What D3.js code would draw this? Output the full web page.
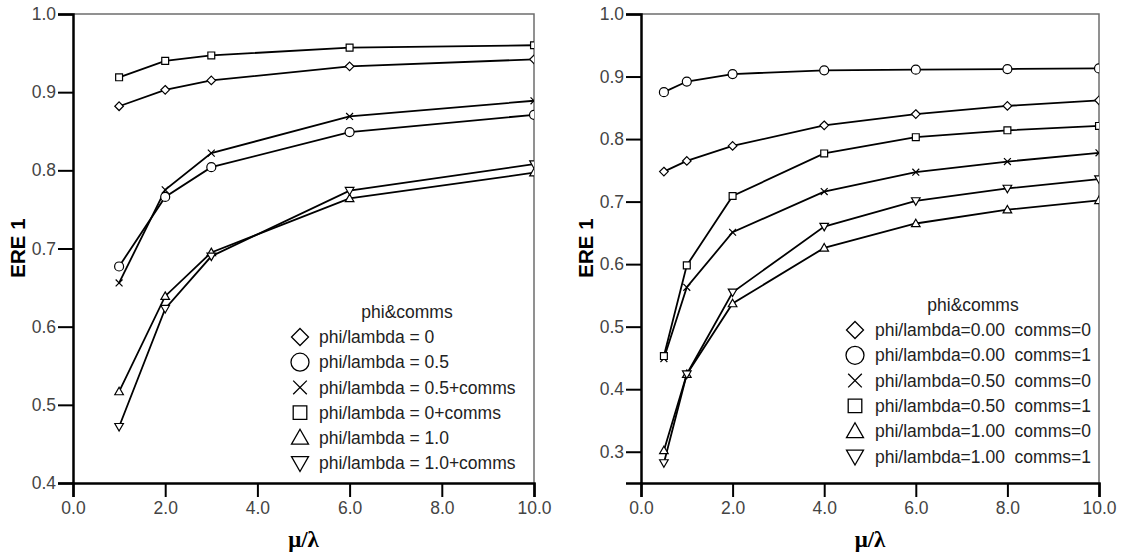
<!DOCTYPE html>
<html><head><meta charset="utf-8">
<script src="https://cdn.jsdelivr.net/npm/d3@7"></script>
<style>body{margin:0;background:#fff}svg{display:block}</style>
</head><body>
<svg id="c" width="1122" height="556"></svg>
<script>
// ---------- DATA ----------
const leftX = [1, 2, 3, 6, 10];
const leftNames = ["phi/lambda = 0", "phi/lambda = 0.5", "phi/lambda = 0.5+comms", "phi/lambda = 0+comms", "phi/lambda = 1.0", "phi/lambda = 1.0+comms"];
const leftShapes = ["diamond", "circle", "times", "square", "up", "down"];
const left0 = [0.882, 0.903, 0.915, 0.933, 0.942];
const left05 = [0.677, 0.766, 0.804, 0.849, 0.871];
const left05c = [0.656, 0.775, 0.822, 0.869, 0.889];
const left0c = [0.919, 0.940, 0.947, 0.957, 0.960];
const left10 = [0.517, 0.639, 0.695, 0.764, 0.797];
const left10c = [0.472, 0.623, 0.690, 0.774, 0.808];
const leftYTicks = [0.4, 0.5, 0.6, 0.7, 0.8, 0.9, 1.0];

const rightX = [0.5, 1, 2, 4, 6, 8, 10];
const rightNames = ["phi/lambda=0.00  comms=0", "phi/lambda=0.00  comms=1", "phi/lambda=0.50  comms=0", "phi/lambda=0.50  comms=1", "phi/lambda=1.00  comms=0", "phi/lambda=1.00  comms=1"];
const rightShapes = ["diamond", "circle", "times", "square", "up", "down"];
const r000 = [0.748, 0.765, 0.789, 0.822, 0.840, 0.853, 0.862];
const r001 = [0.875, 0.892, 0.904, 0.910, 0.911, 0.912, 0.913];
const r050 = [0.449, 0.563, 0.651, 0.716, 0.747, 0.764, 0.778];
const r051 = [0.453, 0.598, 0.709, 0.777, 0.803, 0.814, 0.821];
const r100 = [0.302, 0.424, 0.537, 0.626, 0.665, 0.687, 0.702];
const r101 = [0.282, 0.424, 0.555, 0.660, 0.701, 0.721, 0.736];
const rightYTicks = [0.3, 0.4, 0.5, 0.6, 0.7, 0.8, 0.9, 1.0];

const xTicks = [0, 2, 4, 6, 8, 10];

// ---------- DRAW ----------
const svg = d3.select("#c");
const FONT = "'Liberation Sans', Arial, sans-serif";

function shapePath(type, r) {
  if (type === "circle") return d3.arc()({innerRadius:0, outerRadius:r, startAngle:0, endAngle:2*Math.PI});
  const p = d3.path();
  if (type === "diamond") { p.moveTo(0,-r); p.lineTo(r,0); p.lineTo(0,r); p.lineTo(-r,0); p.closePath(); }
  else if (type === "times") { const s=r*0.8; p.moveTo(-s,-s); p.lineTo(s,s); p.moveTo(s,-s); p.lineTo(-s,s); }
  else if (type === "square") { const s=r*0.8; p.rect(-s,-s,2*s,2*s); }
  else if (type === "up") { p.moveTo(0,-r); p.lineTo(r,r*0.75); p.lineTo(-r,r*0.75); p.closePath(); }
  else if (type === "down") { p.moveTo(0,r); p.lineTo(r,-r*0.75); p.lineTo(-r,-r*0.75); p.closePath(); }
  return p.toString();
}

function panel(opt) {
  const x = d3.scaleLinear().domain([0, 10]).range([opt.x0, opt.x1]);
  const y = d3.scaleLinear().domain(opt.yDomain).range([483, 14]);
  const g = svg.append("g");
  const clipId = "clip" + opt.id;
  svg.append("clipPath").attr("id", clipId).append("rect")
    .attr("x", opt.x0).attr("y", 14).attr("width", opt.x1 - opt.x0).attr("height", 469);

  // frame top/right
  g.append("path").attr("d", `M${opt.x0},14H${opt.x1}V483`).attr("fill","none").attr("stroke","#6e6e6e").attr("stroke-width",1.5);

  // series
  const sg = g.append("g").attr("clip-path", `url(#${clipId})`);
  const line = d3.line().x(d => x(d[0])).y(d => y(d[1]));
  opt.series.forEach((vals, i) => {
    const pts = opt.xs.map((xv, j) => [xv, vals[j]]);
    sg.append("path").attr("d", line(pts)).attr("fill","none").attr("stroke","#000").attr("stroke-width",1.8);
  });
  opt.series.forEach((vals, i) => {
    const pts = opt.xs.map((xv, j) => [xv, vals[j]]);
    sg.selectAll(null).data(pts).enter().append("path")
      .attr("transform", d => `translate(${x(d[0])},${y(d[1])})`)
      .attr("d", shapePath(opt.shapes[i], opt.shapes[i]==="circle" ? 4.5 : 4.3))
      .attr("fill","#fff").attr("stroke","#000").attr("stroke-width",1.2);
  });

  // axes
  const xa = g.append("g").attr("transform","translate(0,483)")
    .call(d3.axisBottom(x).tickValues(xTicks).tickFormat(d3.format(".1f")).tickSizeOuter(0).tickSize(14).tickPadding(5));
  const ya = g.append("g").attr("transform",`translate(${opt.x0},0)`)
    .call(d3.axisLeft(y).tickValues(opt.yTicks).tickFormat(d3.format(".1f")).tickSizeOuter(0).tickSize(15).tickPadding(2));
  [xa, ya].forEach(a => {
    a.select(".domain").attr("stroke","#000").attr("stroke-width",2.5);
    a.selectAll(".tick line").attr("stroke","#000").attr("stroke-width",2);
    a.selectAll(".tick text").attr("fill","#444").style("font-family",FONT).style("font-size","17.5px");
  });

  // axis titles
  g.append("text").attr("x",(opt.x0+opt.x1)/2).attr("y",547).attr("text-anchor","middle")
    .style("font-family","'Liberation Serif','Times New Roman',serif").style("font-weight","bold").style("font-size","23px")
    .text("μ/λ");
  g.append("text").attr("transform",`translate(${opt.titleX},248) rotate(-90)`).attr("text-anchor","middle")
    .style("font-family",FONT).style("font-weight","bold").style("font-size","20.5px").text("ERE 1");

  // legend
  const lg = g.append("g");
  lg.append("text").attr("x", opt.legTitleX).attr("y", opt.legTitleY).attr("text-anchor","middle")
    .attr("fill","#222").style("font-family",FONT).style("font-size","17.5px").text("phi&comms");
  opt.names.forEach((n, i) => {
    const yy = opt.legY0 + i * opt.legStep;
    lg.append("path").attr("transform",`translate(${opt.legSymX},${yy})`)
      .attr("d", shapePath(opt.shapes[i], opt.shapes[i]==="circle" ? 9 : 8.5))
      .attr("fill","none").attr("stroke","#000").attr("stroke-width",1.3);
    lg.append("text").attr("x", opt.legTextX).attr("y", yy).attr("dy","0.35em")
      .attr("fill","#222").style("font-family",FONT).style("font-size","17.5px").style("white-space","pre").text(n);
  });
}

panel({id:"L", x0:73, x1:534, yDomain:[0.4,1.0], yTicks:leftYTicks, xs:leftX,
  series:[left0, left05, left05c, left0c, left10, left10c], shapes:leftShapes, names:leftNames,
  titleX:25, legTitleX:407, legTitleY:318, legY0:337, legStep:25.2, legSymX:300, legTextX:319});
panel({id:"R", x0:641, x1:1099, yDomain:[0.25,1.0], yTicks:rightYTicks, xs:rightX,
  series:[r000, r001, r050, r051, r100, r101], shapes:rightShapes, names:rightNames,
  titleX:593, legTitleX:973, legTitleY:311, legY0:330, legStep:25.3, legSymX:855, legTextX:875});
</script>
</body></html>
